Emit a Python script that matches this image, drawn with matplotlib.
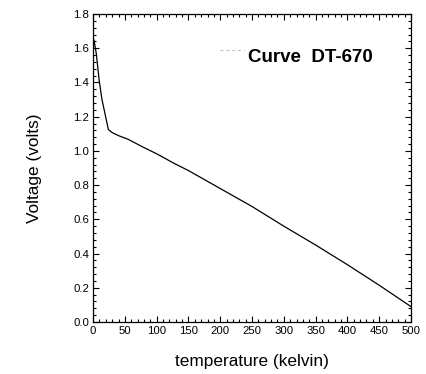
# DT-670 silicon diode sensor curve
import matplotlib
matplotlib.use("Agg")
import matplotlib.pyplot as plt
from matplotlib.ticker import MultipleLocator

plt.rcParams['font.family'] = ['Liberation Sans', 'DejaVu Sans']

# temperature (K) and voltage (V)
temperature = [1.4, 5, 9.5, 14, 24, 30, 40, 55, 77, 100, 127, 150,
               200, 250, 300, 350, 400, 450, 500]
voltage = [1.648, 1.57, 1.414, 1.30, 1.125, 1.107, 1.089, 1.068, 1.025, 0.983, 0.928, 0.885,
           0.78, 0.675, 0.56, 0.45, 0.335, 0.215, 0.09]

fig = plt.figure(figsize=(4.27, 3.74), dpi=100)
ax = fig.add_axes([0.218, 0.139, 0.7445, 0.8236])

ax.plot(temperature, voltage, color='black', linewidth=0.9)

ax.set_xlim(0, 500)
ax.set_ylim(0, 1.8)
ax.xaxis.set_major_locator(MultipleLocator(50))
ax.xaxis.set_minor_locator(MultipleLocator(10))
ax.yaxis.set_major_locator(MultipleLocator(0.2))
ax.yaxis.set_minor_locator(MultipleLocator(0.04))
ax.yaxis.set_major_formatter(plt.FormatStrFormatter('%.1f'))

ax.tick_params(which='both', direction='in', top=True, right=True,
               labelsize=8.2, width=0.8, pad=3)
ax.tick_params(which='major', length=4.5)
ax.tick_params(which='minor', length=2.2)
for s in ax.spines.values():
    s.set_linewidth(0.9)

ax.set_xlabel('temperature (kelvin)', fontsize=12.4, labelpad=13)
ax.set_ylabel('Voltage (volts)', fontsize=12.4, labelpad=22)

# legend-like label
ax.plot([200, 238], [1.59, 1.59], color='#bbbbbb', linestyle=(0, (3, 3)), linewidth=0.7)
ax.text(244, 1.545, 'Curve  DT-670', fontsize=13.5, fontweight='bold', va='center', ha='left')

fig.savefig('out.png', dpi=100)
